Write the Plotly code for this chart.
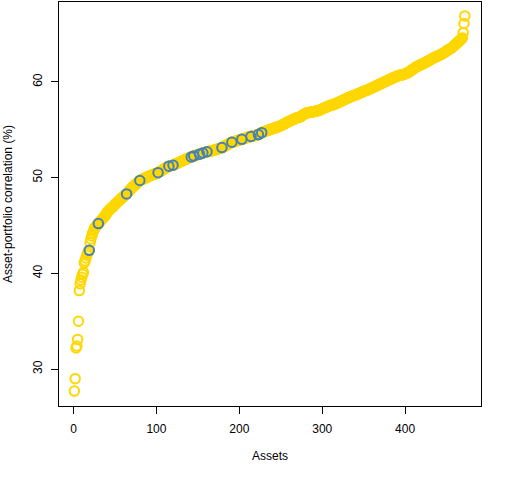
import numpy as np
import plotly.graph_objects as go

# sortierte Korrelationen Asset vs. Portfolio (in %)
corr = [
    27.7, 29.0, 32.2, 32.4, 33.1, 35.0, 38.2, 38.9, 39.3, 39.6,
    39.9, 40.1, 41.1, 41.3, 41.6, 41.9, 42.1, 42.3, 42.4, 43.2,
    43.6, 43.9, 44.2, 44.4, 44.6, 44.8, 44.9, 45.0, 45.1, 45.2,
    45.3, 45.4, 45.5, 45.6, 45.7, 45.8, 45.9, 46.0, 46.1, 46.3,
    46.4, 46.5, 46.6, 46.7, 46.8, 46.85, 46.9, 47.0, 47.1, 47.2,
    47.28, 47.36, 47.44, 47.52, 47.6, 47.68, 47.76, 47.84, 47.92, 48.0,
    48.08, 48.16, 48.24, 48.3, 48.4, 48.5, 48.6, 48.7, 48.8, 48.9,
    48.98, 49.06, 49.14, 49.22, 49.3, 49.38, 49.46, 49.54, 49.62, 49.7,
    49.74, 49.78, 49.82, 49.86, 49.9, 49.94, 49.98, 50.02, 50.06, 50.1,
    50.14, 50.18, 50.22, 50.26, 50.3, 50.33, 50.36, 50.39, 50.42, 50.45,
    50.48, 50.52, 50.57, 50.62, 50.67, 50.72, 50.77, 50.83, 50.89, 50.95,
    51.0, 51.05, 51.1, 51.15, 51.2, 51.22, 51.24, 51.26, 51.28, 51.3,
    51.34, 51.38, 51.42, 51.46, 51.5, 51.54, 51.58, 51.62, 51.66, 51.7,
    51.74, 51.78, 51.82, 51.86, 51.9, 51.94, 51.98, 52.02, 52.06, 52.1,
    52.13, 52.16, 52.2, 52.23, 52.26, 52.29, 52.32, 52.35, 52.38, 52.41,
    52.43, 52.45, 52.48, 52.51, 52.54, 52.57, 52.6, 52.63, 52.66, 52.68,
    52.7, 52.72, 52.74, 52.76, 52.78, 52.8, 52.82, 52.84, 52.86, 52.88,
    52.9, 52.93, 52.96, 52.99, 53.02, 53.05, 53.08, 53.1, 53.14, 53.18,
    53.22, 53.27, 53.32, 53.37, 53.42, 53.47, 53.52, 53.57, 53.62, 53.66,
    53.7, 53.72, 53.74, 53.76, 53.79, 53.82, 53.85, 53.88, 53.91, 53.94,
    53.97, 53.99, 54.0, 54.03, 54.06, 54.09, 54.12, 54.15, 54.18, 54.21,
    54.24, 54.27, 54.29, 54.3, 54.32, 54.34, 54.36, 54.38, 54.4, 54.42,
    54.44, 54.47, 54.5, 54.55, 54.6, 54.65, 54.7, 54.73, 54.76, 54.79,
    54.82, 54.86, 54.9, 54.93, 54.96, 54.99, 55.02, 55.05, 55.08, 55.11,
    55.14, 55.17, 55.2, 55.23, 55.26, 55.29, 55.32, 55.35, 55.38, 55.42,
    55.46, 55.5, 55.55, 55.6, 55.65, 55.7, 55.75, 55.8, 55.84, 55.88,
    55.92, 55.96, 56.0, 56.04, 56.08, 56.12, 56.16, 56.2, 56.23, 56.26,
    56.28, 56.3, 56.32, 56.38, 56.44, 56.5, 56.56, 56.62, 56.68, 56.72,
    56.75, 56.77, 56.79, 56.8, 56.82, 56.84, 56.85, 56.87, 56.88, 56.9,
    56.92, 56.93, 56.95, 56.97, 57.0, 57.03, 57.06, 57.1, 57.14, 57.18,
    57.22, 57.26, 57.3, 57.33, 57.36, 57.4, 57.44, 57.48, 57.52, 57.56,
    57.58, 57.6, 57.62, 57.65, 57.68, 57.72, 57.76, 57.8, 57.84, 57.88,
    57.92, 57.96, 58.0, 58.04, 58.08, 58.12, 58.16, 58.2, 58.25, 58.3,
    58.34, 58.37, 58.4, 58.44, 58.48, 58.51, 58.54, 58.57, 58.6, 58.63,
    58.66, 58.7, 58.74, 58.78, 58.82, 58.86, 58.9, 58.94, 58.98, 59.02,
    59.05, 59.08, 59.1, 59.14, 59.18, 59.22, 59.26, 59.3, 59.34, 59.38,
    59.42, 59.46, 59.5, 59.54, 59.58, 59.62, 59.66, 59.7, 59.74, 59.8,
    59.84, 59.88, 59.92, 59.96, 60.0, 60.04, 60.08, 60.12, 60.16, 60.2,
    60.24, 60.28, 60.32, 60.36, 60.4, 60.44, 60.48, 60.52, 60.56, 60.6,
    60.63, 60.66, 60.68, 60.7, 60.72, 60.74, 60.76, 60.78, 60.8, 60.84,
    60.88, 60.92, 60.96, 61.0, 61.06, 61.12, 61.18, 61.24, 61.3, 61.36,
    61.42, 61.48, 61.54, 61.6, 61.64, 61.68, 61.72, 61.76, 61.8, 61.84,
    61.88, 61.92, 61.96, 62.0, 62.05, 62.1, 62.15, 62.2, 62.25, 62.3,
    62.35, 62.4, 62.45, 62.5, 62.54, 62.58, 62.62, 62.66, 62.7, 62.74,
    62.78, 62.82, 62.86, 62.9, 62.95, 63.0, 63.05, 63.1, 63.17, 63.24,
    63.3, 63.36, 63.4, 63.44, 63.5, 63.56, 63.62, 63.7, 63.78, 63.86,
    63.94, 64.02, 64.1, 64.18, 64.26, 64.34, 64.42, 64.5, 64.6, 65.15,
    66.1, 66.9,
]

# Assets im Portfolio (Position in der sortierten Liste, 1-basiert)
portfolio_idx = [19, 30, 64, 80, 102, 115, 120, 142, 145, 152,
                 156, 161, 179, 191, 203, 214, 223, 227]

x_ticks = [0, 100, 200, 300, 400]
y_ticks = [30, 40, 50, 60]


def make_plot():
    assets = np.arange(1, len(corr) + 1)
    corr_arr = np.array(corr)
    pidx = np.array(portfolio_idx)

    fig = go.Figure()
    fig.add_trace(go.Scatter(
        x=assets, y=corr_arr, mode="markers",
        marker=dict(symbol="circle-open", size=9.5, color="#FFD700",
                    line=dict(width=2, color="#FFD700")),
        showlegend=False))
    fig.add_trace(go.Scatter(
        x=pidx, y=corr_arr[pidx - 1], mode="markers",
        marker=dict(symbol="circle-open", size=9.5, color="#4682B4",
                    line=dict(width=2, color="#4682B4")),
        showlegend=False))

    axis_style = dict(showgrid=False, zeroline=False, showline=True,
                      linecolor="black", linewidth=1, mirror=True,
                      ticks="outside", ticklen=7, tickcolor="black",
                      automargin=False,
                      tickfont=dict(size=12, color="black"))
    fig.update_xaxes(range=[-17.5, 491.5], tickvals=x_ticks,
                     ticklabelstandoff=5,
                     title=dict(text="Assets", standoff=16,
                                font=dict(size=12, color="black")),
                     **axis_style)
    fig.update_yaxes(range=[26.14, 68.35], tickvals=y_ticks, tickangle=-90,
                     ticklabelstandoff=4,
                     title=dict(text="Asset-portfolio correlation (%)",
                                standoff=16, font=dict(size=12, color="black")),
                     **axis_style)
    fig.update_layout(width=512, height=480,
                      margin=dict(l=59, r=31, t=2, b=74),
                      plot_bgcolor="white", paper_bgcolor="white",
                      hovermode=False,
                      font=dict(family="Liberation Sans, Arial", size=12))
    return fig


if __name__ == "__main__":
    fig = make_plot()
    # Seitenrand vom Browser weg, sonst ist alles um 8px verschoben
    fig.write_html("out.html", config={"displayModeBar": False},
                   post_script="document.body.style.margin='0';")
